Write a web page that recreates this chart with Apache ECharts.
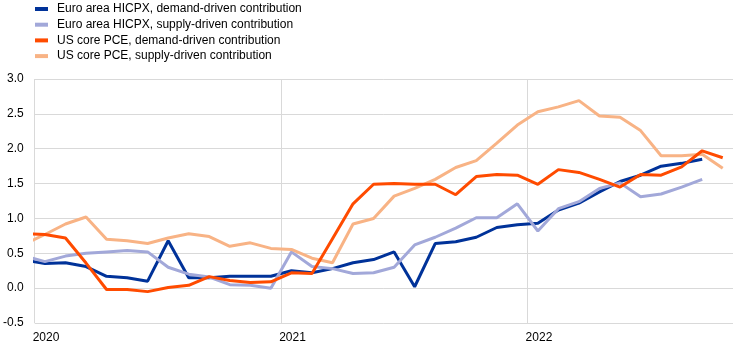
<!DOCTYPE html>
<html>
<head>
<meta charset="utf-8">
<script src="https://cdn.jsdelivr.net/npm/echarts@6/dist/echarts.min.js"></script>
<style>html,body{margin:0;padding:0;background:#fff}#c{width:744px;height:350px}</style>
</head>
<body>
<div id="c"></div>
<script>
// Monthly observations, Dec 2019 .. Oct 2022
const months = ['2019-12',
  '2020-01','2020-02','2020-03','2020-04','2020-05','2020-06','2020-07','2020-08','2020-09','2020-10','2020-11','2020-12',
  '2021-01','2021-02','2021-03','2021-04','2021-05','2021-06','2021-07','2021-08','2021-09','2021-10','2021-11','2021-12',
  '2022-01','2022-02','2022-03','2022-04','2022-05','2022-06','2022-07','2022-08','2022-09','2022-10'];
const yearLabels = ['2020', '2021', '2022'];
const seriesNames = ['Euro area HICPX, demand-driven contribution', 'Euro area HICPX, supply-driven contribution',
  'US core PCE, demand-driven contribution', 'US core PCE, supply-driven contribution'];

const euroDemand = [0.40,
  0.355,0.365,0.31,0.17,0.15,0.10,0.68,0.15,0.15,0.17,0.17,0.17,
  0.25,0.22,0.28,0.365,0.41,0.52,0.02,0.64,0.665,0.73,0.87,0.91,
  0.93,1.12,1.22,1.38,1.53,1.62,1.75,1.79,1.85,null];
const euroSupply = [0.46,
  0.38,0.46,0.50,0.52,0.54,0.52,0.30,0.20,0.16,0.05,0.04,0.00,
  0.52,0.31,0.28,0.21,0.22,0.30,0.62,0.73,0.86,1.01,1.01,1.21,
  0.82,1.14,1.24,1.43,1.51,1.31,1.35,1.45,1.56,null];
const usDemand = [0.78,
  0.77,0.72,0.36,-0.02,-0.02,-0.05,0.01,0.04,0.165,0.11,0.08,0.09,
  0.22,0.21,0.71,1.21,1.49,1.50,1.49,1.49,1.34,1.60,1.63,1.62,
  1.49,1.70,1.66,1.56,1.45,1.63,1.62,1.74,1.97,1.87];
const usSupply = [0.63,
  0.77,0.92,1.02,0.70,0.68,0.64,0.72,0.78,0.74,0.60,0.65,0.57,
  0.555,0.43,0.365,0.92,1.00,1.32,1.43,1.56,1.73,1.83,2.08,2.34,
  2.53,2.60,2.69,2.47,2.45,2.26,1.90,1.90,1.92,1.72];

const colors = ['#003299', '#a2a8d9', '#ff4b00', '#f8b385'];

// month position: Jan 2020 band = [0,1], point at its centre
function toPairs(vals) {
  const out = [];
  months.forEach((m, k) => {
    const [y, mo] = m.split('-').map(Number);
    const x = (y - 2020) * 12 + (mo - 1) + 0.5;
    if (vals[k] !== null) out.push([x, vals[k]]);
  });
  return out;
}

const allVals = [euroDemand, euroSupply, usDemand, usSupply];
const order = [0, 1, 3, 2];
const chart = echarts.init(document.getElementById('c'), null, {renderer: 'canvas'});
chart.setOption({
  animation: false,
  color: colors,
  textStyle: {fontFamily: 'Liberation Sans, Arial, sans-serif'},
  legend: {
    orient: 'vertical',
    left: 30,
    top: -3,
    itemWidth: 13,
    itemHeight: 4,
    itemGap: 1.7,
    icon: 'rect',
    data: seriesNames,
    textStyle: {fontSize: 12, color: '#000', lineHeight: 14, padding: [0, 0, 0, 4]}
  },
  grid: {left: 34, right: 11, top: 79, bottom: 27, containLabel: false},
  xAxis: {
    type: 'value',
    min: 0,
    max: 34,
    interval: 12,
    axisLine: {show: false},
    axisTick: {show: false},
    splitLine: {show: true, showMinLine: true, showMaxLine: false, lineStyle: {color: '#d9d9d9', width: 1}},
    axisLabel: {
      color: '#000', fontSize: 12, margin: 9, align: 'left', showMaxLabel: false,
      padding: [0, 0, 0, -2],
      formatter: v => (v % 12 === 0 && yearLabels[v / 12] !== undefined) ? yearLabels[v / 12] : ''
    }
  },
  yAxis: {
    type: 'value',
    min: -0.5,
    max: 3.0,
    interval: 0.5,
    axisLine: {show: false},
    axisTick: {show: false},
    splitLine: {show: true, lineStyle: {color: '#d9d9d9', width: 1}},
    axisLabel: {color: '#000', fontSize: 12, margin: 11, formatter: v => v.toFixed(1)}
  },
  series: order.map(k => ({
    name: seriesNames[k],
    type: 'line',
    data: toPairs(allVals[k]),
    showSymbol: false,
    symbol: 'none',
    clip: true,
    lineStyle: {width: 3, color: colors[k]},
    itemStyle: {color: colors[k]}
  }))
});
</script>
</body>
</html>
